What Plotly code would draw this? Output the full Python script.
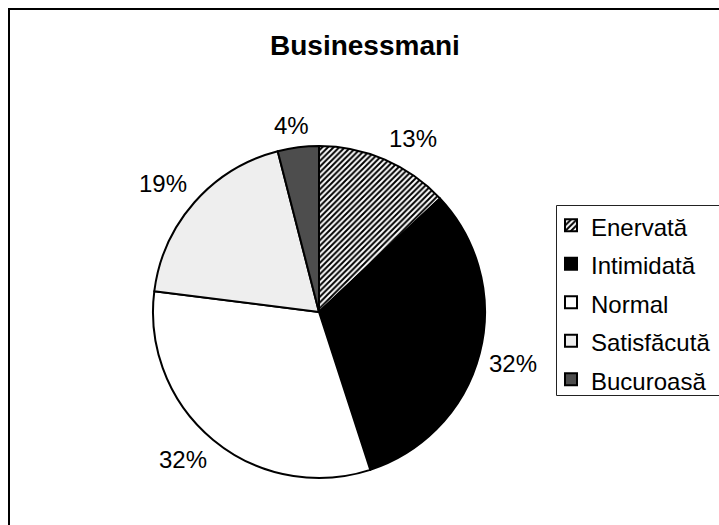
import math
import plotly.graph_objects as go

categories = ["Enervată", "Intimidată", "Normal", "Satisfăcută", "Bucuroasă"]
values = [13, 32, 32, 19, 4]
colors = ["#ffffff", "#000000", "#ffffff", "#eeeeee", "#4d4d4d"]
patterns = ["/", "", "", "", ""]
title_text = "Businessmani"

W, H = 719, 525
cx, cy, R = 319, 312, 166
FONT = "Liberation Sans, Arial, sans-serif"

# legend entries: same names, rendered at 24px inside a slightly taller legend row
legend_labels = [f"<span style='font-size:24px'>{c}</span>" for c in categories]

fig = go.Figure()
fig.add_trace(go.Pie(
    labels=legend_labels,
    values=values,
    sort=False,
    direction="clockwise",
    rotation=0,
    textinfo="none",
    customdata=categories,
    hovertemplate="%{customdata}: %{percent}<extra></extra>",
    marker=dict(
        colors=colors,
        line=dict(color="#000000", width=2),
        pattern=dict(shape=patterns, fgcolor="#000000", bgcolor=colors,
                     size=4, solidity=0.5),
    ),
    domain=dict(x=[(cx - R) / W, (cx + R) / W],
                y=[(H - cy - R) / H, (H - cy + R) / H]),
))

# percentage labels placed outside, from the data's cumulative angles
total = sum(values)
cum = 0
annotations = []
for v in values:
    mid = (cum + v / 2) / total * 2 * math.pi
    cum += v
    pct = f"{round(v / total * 100)}%"
    w = 24 * (0.556 * (len(pct) - 1) + 0.889)
    h = 24
    r = R + 10
    s, c = math.sin(mid), math.cos(mid)
    fx = max(-1.0, min(1.0, s * 2.5))
    fy = max(-1.0, min(1.0, c * 2.5))
    px = cx + r * s + fx * w / 2
    py = cy - r * c - fy * h / 2
    annotations.append(dict(
        x=px / W, y=1 - py / H, xref="paper", yref="paper",
        text=pct, showarrow=False, xanchor="center", yanchor="middle",
        font=dict(family=FONT, size=24, color="#000000"),
    ))

annotations.append(dict(
    x=365 / W, y=1 - 46 / H, xref="paper", yref="paper",
    text=f"<b>{title_text}</b>", showarrow=False,
    xanchor="center", yanchor="middle",
    font=dict(family=FONT, size=28, color="#000000"),
))

shapes = [
    # outer chart border (cropped at right/bottom)
    dict(type="rect", xref="paper", yref="paper",
         x0=9 / W, x1=(W + 20) / W, y0=-20 / H, y1=1 - 9 / H,
         line=dict(color="#000000", width=2), fillcolor="rgba(0,0,0,0)"),
    # legend box
    dict(type="rect", xref="paper", yref="paper",
         x0=556.5 / W, x1=(W + 20) / W, y0=1 - 395.5 / H, y1=1 - 205.5 / H,
         line=dict(color="#222222", width=1), fillcolor="rgba(0,0,0,0)"),
]

fig.update_layout(
    width=W, height=H,
    margin=dict(l=0, r=0, t=0, b=0),
    paper_bgcolor="#ffffff",
    plot_bgcolor="#ffffff",
    showlegend=True,
    legend=dict(
        x=551 / W, y=1 - 201 / H, xanchor="left", yanchor="top",
        font=dict(family=FONT, size=27.3, color="#000000"),
        bgcolor="rgba(0,0,0,0)", borderwidth=0,
        itemwidth=30, tracegroupgap=0,
    ),
    annotations=annotations,
    shapes=shapes,
)

fig.write_html(
    "out.html",
    config={"displayModeBar": False},
    post_script="document.body.style.margin='0';document.body.style.overflow='hidden';",
)
